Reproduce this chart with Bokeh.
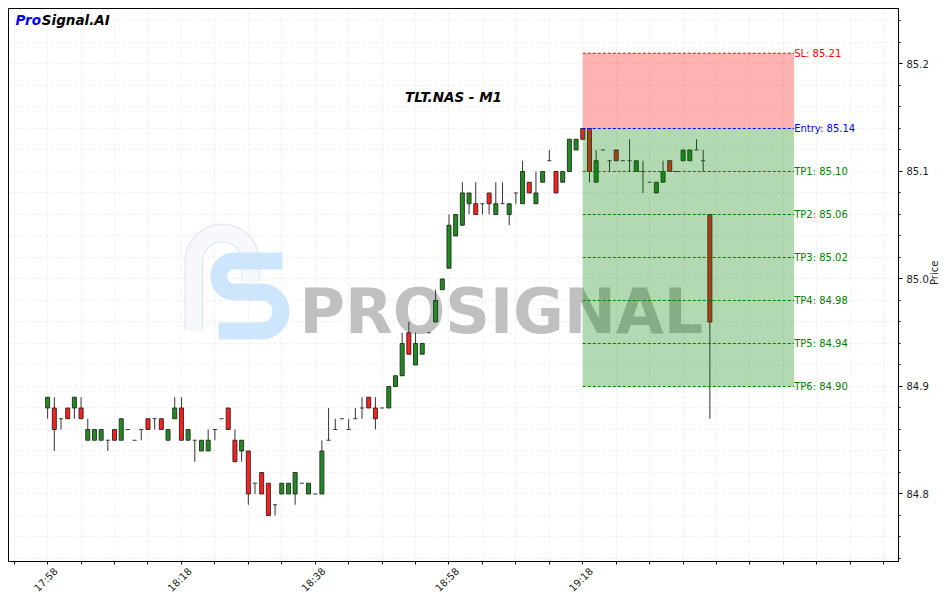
import numpy as np
from bokeh.plotting import figure
from bokeh.models import FixedTicker, PrintfTickFormatter, Label, Range1d
from bokeh.embed import file_html
from bokeh.resources import INLINE
from bokeh.core.properties import value

# ---------------- data ----------------
start_time = "17:58"
opens = [84.88, 84.88, 84.87, 84.88, 84.88, 84.88, 84.85, 84.85, 84.85, 84.85,
         84.86, 84.85, 84.86, 84.85, 84.86, 84.87, 84.87, 84.87, 84.85, 84.87,
         84.88, 84.85, 84.85, 84.84, 84.84, 84.86, 84.87, 84.88, 84.85, 84.84,
         84.84, 84.81, 84.82, 84.81, 84.79, 84.80, 84.80, 84.80, 84.81, 84.80,
         84.80, 84.80, 84.85, 84.86, 84.87, 84.86, 84.87, 84.88, 84.89, 84.88,
         84.88, 84.88, 84.90, 84.91, 84.95, 84.92, 84.93, 84.95, 84.96, 84.99,
         85.01, 85.04, 85.05, 85.07, 85.07, 85.07, 85.08, 85.06, 85.07, 85.06,
         85.08, 85.07, 85.09, 85.07, 85.09, 85.11, 85.10, 85.09, 85.10, 85.12,
         85.14, 85.14, 85.09, 85.12, 85.11, 85.12, 85.11, 85.11, 85.10, 85.10,
         85.09, 85.08, 85.09, 85.11, 85.10, 85.11, 85.11, 85.12, 85.11, 85.06]
highs = [84.89, 84.89, 84.87, 84.88, 84.89, 84.89, 84.87, 84.86, 84.86, 84.85,
         84.86, 84.87, 84.86, 84.85, 84.86, 84.87, 84.87, 84.87, 84.86, 84.89,
         84.89, 84.86, 84.85, 84.85, 84.86, 84.86, 84.87, 84.88, 84.86, 84.85,
         84.84, 84.81, 84.82, 84.81, 84.79, 84.81, 84.81, 84.82, 84.81, 84.81,
         84.80, 84.85, 84.88, 84.87, 84.87, 84.87, 84.88, 84.89, 84.89, 84.89,
         84.88, 84.90, 84.91, 84.95, 84.96, 84.95, 84.94, 84.95, 84.99, 85.00,
         85.06, 85.06, 85.09, 85.08, 85.09, 85.07, 85.08, 85.09, 85.09, 85.07,
         85.08, 85.11, 85.09, 85.10, 85.10, 85.12, 85.10, 85.10, 85.13, 85.13,
         85.14, 85.14, 85.12, 85.12, 85.11, 85.12, 85.11, 85.13, 85.11, 85.11,
         85.09, 85.09, 85.11, 85.11, 85.10, 85.12, 85.12, 85.13, 85.12, 85.06]
lows = [84.87, 84.84, 84.86, 84.87, 84.87, 84.87, 84.85, 84.85, 84.85, 84.84,
        84.85, 84.85, 84.86, 84.85, 84.85, 84.86, 84.86, 84.86, 84.85, 84.87,
        84.85, 84.85, 84.83, 84.84, 84.84, 84.85, 84.87, 84.86, 84.83, 84.83,
        84.79, 84.80, 84.80, 84.78, 84.78, 84.80, 84.80, 84.79, 84.81, 84.80,
        84.80, 84.80, 84.85, 84.86, 84.87, 84.86, 84.87, 84.87, 84.88, 84.86,
        84.88, 84.88, 84.90, 84.91, 84.93, 84.92, 84.93, 84.95, 84.96, 84.99,
        85.01, 85.04, 85.05, 85.06, 85.06, 85.06, 85.06, 85.06, 85.07, 85.05,
        85.07, 85.07, 85.08, 85.07, 85.09, 85.11, 85.08, 85.09, 85.10, 85.12,
        85.13, 85.09, 85.09, 85.12, 85.10, 85.11, 85.11, 85.10, 85.10, 85.08,
        85.09, 85.08, 85.09, 85.10, 85.10, 85.11, 85.11, 85.12, 85.10, 84.87]
closes = [84.89, 84.86, 84.87, 84.87, 84.89, 84.87, 84.86, 84.86, 84.86, 84.85,
          84.85, 84.87, 84.86, 84.85, 84.86, 84.86, 84.87, 84.86, 84.86, 84.88,
          84.85, 84.86, 84.85, 84.85, 84.85, 84.86, 84.87, 84.86, 84.83, 84.85,
          84.80, 84.81, 84.80, 84.78, 84.79, 84.81, 84.81, 84.82, 84.81, 84.81,
          84.80, 84.84, 84.85, 84.86, 84.87, 84.86, 84.87, 84.88, 84.88, 84.87,
          84.88, 84.90, 84.91, 84.94, 84.93, 84.94, 84.94, 84.95, 84.98, 85.00,
          85.05, 85.06, 85.08, 85.08, 85.06, 85.07, 85.07, 85.07, 85.07, 85.07,
          85.08, 85.10, 85.08, 85.08, 85.10, 85.11, 85.08, 85.10, 85.13, 85.13,
          85.13, 85.10, 85.11, 85.12, 85.11, 85.11, 85.11, 85.11, 85.11, 85.10,
          85.09, 85.09, 85.10, 85.10, 85.10, 85.12, 85.12, 85.12, 85.11, 84.96]

level_names = ["SL", "Entry", "TP1", "TP2", "TP3", "TP4", "TP5", "TP6"]
level_values = [85.21, 85.14, 85.10, 85.06, 85.02, 84.98, 84.94, 84.90]
level_colors = ["red", "blue", "green", "green", "green", "green", "green", "green"]
zone_start = "19:18"
zone_end = "19:49.6"

x_tick_labels = ["17:58", "18:18", "18:38", "18:58", "19:18"]
y_tick_values = [84.8, 84.9, 85.0, 85.1, 85.2]

title_text = "TLT.NAS - M1"
y_label = "Price"


def to_min(s):
    hh, mm = s.split(":")
    return int(hh) * 60 + float(mm)


t0 = to_min(start_time)
x = np.array([t0 + i for i in range(len(opens))])
o = np.array(opens); h = np.array(highs); l = np.array(lows); c = np.array(closes)

XMIN, XMAX = t0 - 5.85, t0 + 127.2
YMIN, YMAX = 84.7372, 85.2516

p = figure(width=948, height=600, output_backend="svg", toolbar_location=None,
           x_range=Range1d(XMIN, XMAX), y_range=Range1d(YMIN, YMAX),
           y_axis_location="right", min_border_left=8, min_border_top=8,
           min_border_right=48, min_border_bottom=39)
p.background_fill_color = "white"
p.border_fill_color = "white"
p.outline_line_color = "black"
p.outline_line_width = 1

# ---- axes ----
# tick marks every 5 minutes (drawn as minor ticks); the labels sit on
# slightly shifted invisible major ticks so that each rotated label is
# centred on its tick mark.
label_shift = 1.27
lab_pos = [t0 + 20 * i + label_shift for i in range(len(x_tick_labels))]
min_x = [float(v) for v in np.arange(t0 - 5, XMAX, 5)]
p.xaxis.ticker = FixedTicker(ticks=lab_pos, minor_ticks=min_x)
p.xaxis.major_label_overrides = {float(v): lab for v, lab in zip(lab_pos, x_tick_labels)}
p.xaxis.major_label_orientation = np.pi / 4
p.xaxis.major_tick_out = 0
p.xaxis.major_tick_in = 0
p.xaxis.minor_tick_out = 3
p.xaxis.minor_tick_in = 0
p.xaxis.major_label_standoff = 5

min_y = [round(float(v), 2) for v in np.arange(84.74, 85.25, 0.02)]
p.yaxis.ticker = FixedTicker(ticks=y_tick_values, minor_ticks=min_y)
p.yaxis.formatter = PrintfTickFormatter(format="%.1f")
p.yaxis.major_tick_out = 4
p.yaxis.major_tick_in = 0
p.yaxis.minor_tick_out = 2
p.yaxis.minor_tick_in = 0
p.yaxis.major_label_standoff = 4
p.yaxis.axis_label = y_label
p.yaxis.axis_label_standoff = 3
try:
    p.yaxis[0].axis_label_orientation = np.pi / 2
except Exception:
    pass
for ax in (p.xaxis[0], p.yaxis[0]):
    ax.axis_line_color = "black"
    ax.major_label_text_font = "DejaVu Sans"
    ax.major_label_text_font_size = "10px"
    ax.major_label_text_color = "#222222"
    ax.axis_label_text_font = "DejaVu Sans"
    ax.axis_label_text_font_size = "10px"
    ax.axis_label_text_font_style = "normal"
    ax.axis_label_text_color = "#222222"

p.xgrid.ticker = FixedTicker(ticks=min_x)
p.ygrid.ticker = FixedTicker(ticks=min_y)
for g in (p.xgrid[0], p.ygrid[0]):
    g.grid_line_color = "#d0d0d0"
    g.grid_line_alpha = 0.3
    g.grid_line_dash = "4 2"


# ---- watermark (decoration, pixel-based helpers) ----
def X(px):
    return t0 + (px - 47.3) / 6.7125


def Y(py):
    return 85.0 - (py - 278.5) / 1075.0


# P outline hook
th = np.linspace(np.pi, 0, 30)
px_p = [194, 194] + list(222.5 + 28.5 * np.cos(th)) + [251, 251]
py_p = [330, 261] + list(261 - 28.5 * np.sin(th)) + [261, 281]
p.line([X(v) for v in px_p], [Y(v) for v in py_p], line_width=19, line_color="#e2e8ef",
       line_join="round", line_cap="butt", line_alpha=0.9)
p.line([X(v) for v in px_p], [Y(v) for v in py_p], line_width=16, line_color="#f6f8fb",
       line_join="round", line_cap="butt")
# S shape
a1 = np.linspace(np.pi / 2, 3 * np.pi / 2, 25)
a2 = np.linspace(np.pi / 2, -np.pi / 2, 25)
px_s = [283] + list(234.5 + 15.5 * np.cos(a1)) + list(262 + 19.5 * np.cos(a2)) + [219]
py_s = [260.5] + list(276 - 15.5 * np.sin(a1)) + list(311 - 19.5 * np.sin(a2)) + [330.5]
p.line([X(v) for v in px_s], [Y(v) for v in py_s], line_width=17, line_color="#cde6fb",
       line_join="round", line_cap="butt")
p.text(x=[X(300)], y=[Y(311.5)], text=["PROSIGNAL"], text_font=value("DejaVu Sans"),
       text_font_style="bold", text_font_size="62px", text_color="#b5b5b5", text_alpha=0.85,
       text_baseline="alphabetic", text_align="left")

# ---- candles ----
inc = c > o
dec = c < o
doji = c == o
p.segment(x0=x, y0=h, x1=x, y1=l, line_color="#333333", line_width=1)
p.vbar(x=x[inc], width=0.6, bottom=o[inc], top=c[inc], fill_color="#228b22",
       line_color="#1e2a1e", line_width=0.9)
p.vbar(x=x[dec], width=0.6, bottom=c[dec], top=o[dec], fill_color="#ff2020",
       line_color="#2a1e1e", line_width=0.9)
p.segment(x0=x[doji] - 0.3, y0=o[doji], x1=x[doji] + 0.3, y1=o[doji],
          line_color="#333333", line_width=1)

# ---- zones and levels ----
zs, ze = to_min(zone_start), to_min(zone_end)
entry = level_values[1]
p.quad(left=[zs], right=[ze], bottom=[entry], top=[level_values[0]],
       fill_color="red", fill_alpha=0.3, line_color=None)
p.quad(left=[zs], right=[ze], bottom=[min(level_values)], top=[entry],
       fill_color="green", fill_alpha=0.3, line_color=None)
p.segment(x0=[zs] * len(level_values), x1=[ze] * len(level_values),
          y0=level_values, y1=level_values, line_color=level_colors,
          line_dash=value("3 2"), line_width=1)
p.text(x=[ze] * len(level_values), y=level_values,
       text=[f"{n}: {v:.2f}" for n, v in zip(level_names, level_values)],
       text_color=level_colors, text_font=value("DejaVu Sans"), text_font_size="10px",
       text_baseline="middle", text_align="left")

# ---- title and brand ----
p.add_layout(Label(x=XMIN + 0.5 * (XMAX - XMIN), y=YMIN + 0.84 * (YMAX - YMIN),
                   text=title_text, text_font="DejaVu Sans", text_font_size="13.5px",
                   text_font_style="bold italic", text_align="center",
                   text_baseline="middle", text_color="black"))
p.add_layout(Label(x=XMIN, y=YMAX, x_offset=7, y_offset=-3, text="Pro",
                   text_font="DejaVu Sans", text_font_size="13.5px",
                   text_font_style="bold italic", text_color="blue", text_baseline="top"))
p.add_layout(Label(x=XMIN, y=YMAX, x_offset=33.3, y_offset=-3, text="Signal.AI",
                   text_font="DejaVu Sans", text_font_size="13.5px",
                   text_font_style="bold italic", text_color="black", text_baseline="top"))

open("out.html", "w").write(file_html(p, INLINE))
